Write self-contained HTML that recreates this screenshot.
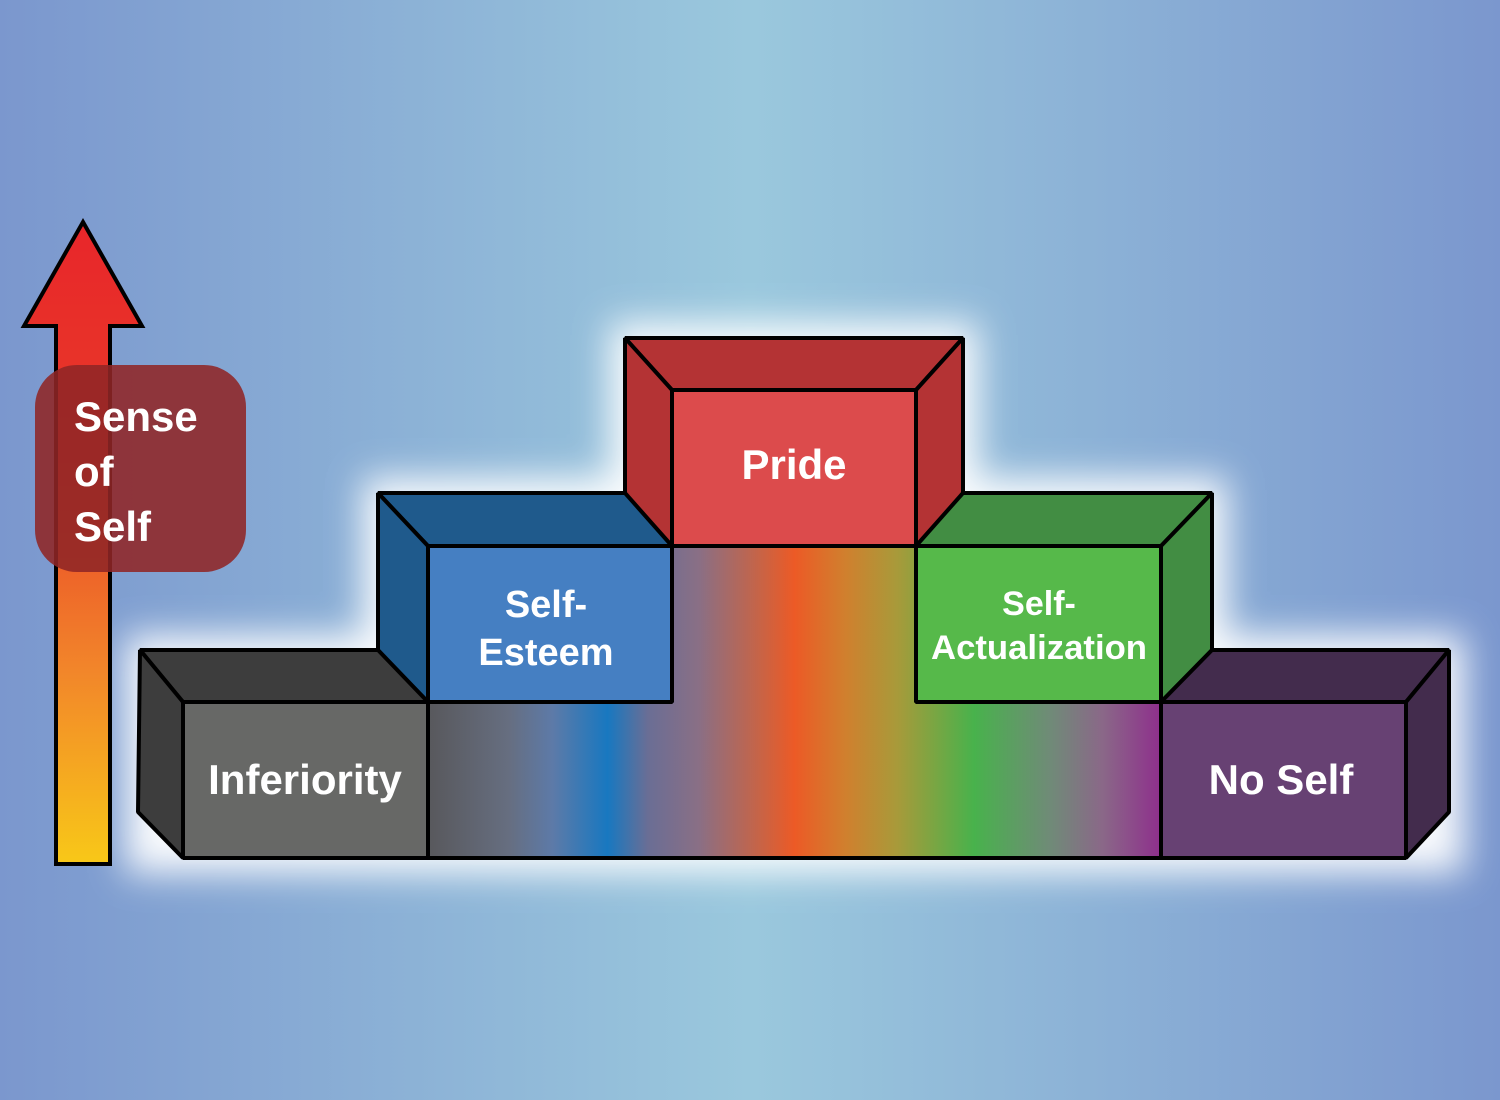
<!DOCTYPE html>
<html><head><meta charset="utf-8"><style>
html,body{margin:0;padding:0;width:1500px;height:1100px;overflow:hidden}
svg{display:block}
text{font-family:"Liberation Sans","DejaVu Sans",sans-serif;fill:#fff;font-weight:bold}
</style></head><body>
<svg width="1500" height="1100" viewBox="0 0 1500 1100" xmlns="http://www.w3.org/2000/svg">
<defs>
<linearGradient id="bg" x1="0" x2="1" y1="0" y2="0">
<stop offset="0" stop-color="#7b97ce"/><stop offset="0.5" stop-color="#9ac8dd"/><stop offset="1" stop-color="#7b97ce"/>
</linearGradient>
<linearGradient id="rb" gradientUnits="userSpaceOnUse" x1="428" y1="0" x2="1161" y2="0">
<stop offset="0" stop-color="#58585c"/>
<stop offset="0.11" stop-color="#666e80"/>
<stop offset="0.17" stop-color="#5d7aa8"/>
<stop offset="0.245" stop-color="#1878c0"/>
<stop offset="0.30" stop-color="#6a6e95"/>
<stop offset="0.37" stop-color="#8a6f85"/>
<stop offset="0.45" stop-color="#c56448"/>
<stop offset="0.50" stop-color="#ec5a26"/>
<stop offset="0.57" stop-color="#d0802e"/>
<stop offset="0.64" stop-color="#a89a3a"/>
<stop offset="0.745" stop-color="#48b24c"/>
<stop offset="0.85" stop-color="#708a78"/>
<stop offset="0.92" stop-color="#8a6888"/>
<stop offset="1" stop-color="#8e2f8c"/>
</linearGradient>
<linearGradient id="ar" x1="0" x2="0" y1="0" y2="1">
<stop offset="0" stop-color="#e8262a"/><stop offset="0.35" stop-color="#e83a28"/><stop offset="0.7" stop-color="#f2862a"/><stop offset="1" stop-color="#f8c818"/>
</linearGradient>
<filter id="gl" x="-20%" y="-30%" width="140%" height="160%"><feGaussianBlur stdDeviation="18"/></filter>
</defs>
<rect width="1500" height="1100" fill="url(#bg)"/>
<path d="M625,338H963V493H1212V650H1449V858H140V650H378V493H625Z" fill="#fff" stroke="#fff" stroke-width="30" filter="url(#gl)" opacity="0.95"/>
<g stroke="#000" stroke-width="4" stroke-linejoin="bevel">
<path d="M672,546H916V702H1161V858H428V702H672Z" fill="url(#rb)"/>
<polygon points="625,338 963,338 916,390 672,390" fill="#b43334"/>
<polygon points="625,338 672,390 672,546 625,495" fill="#b43334"/>
<polygon points="963,338 916,390 916,546 963,495" fill="#b43334"/>
<rect x="672" y="390" width="244" height="156" fill="#dc4b4c"/>
<polygon points="378,493 625,493 672,546 428,546" fill="#1f5a8c"/>
<polygon points="378,493 428,546 428,702 378,652" fill="#1f5a8c"/>
<rect x="428" y="546" width="244" height="156" fill="#457fc2"/>
<polygon points="963,493 1212,493 1161,546 916,546" fill="#428d43"/>
<polygon points="1212,493 1161,546 1161,702 1212,650" fill="#428d43"/>
<rect x="916" y="546" width="245" height="156" fill="#56b94a"/>
<polygon points="140,650 378,650 428,702 183,702" fill="#3d3d3d"/>
<polygon points="140,650 183,702 183,858 138,812" fill="#3d3d3d"/>
<rect x="183" y="702" width="245" height="156" fill="#676866"/>
<polygon points="1212,650 1449,650 1406,702 1161,702" fill="#432c4d"/>
<polygon points="1449,650 1406,702 1406,858 1449,812" fill="#432c4d"/>
<rect x="1161" y="702" width="245" height="156" fill="#674173"/>
<polygon points="83,222 142,326 110,326 110,864 56,864 56,326 24,326" fill="url(#ar)" stroke-linejoin="miter" stroke-miterlimit="10"/>
</g>
<rect x="35" y="365" width="211" height="207" rx="42" fill="#8f2526" opacity="0.88"/>
<text x="74" y="431" font-size="42">Sense</text>
<text x="74" y="486" font-size="42">of</text>
<text x="74" y="541" font-size="42">Self</text>
<text x="794" y="479" font-size="42" text-anchor="middle">Pride</text>
<text x="546" y="617" font-size="38" text-anchor="middle">Self-</text>
<text x="546" y="665" font-size="38" text-anchor="middle">Esteem</text>
<text x="1039" y="615" font-size="34" text-anchor="middle">Self-</text>
<text x="1039" y="659" font-size="34" text-anchor="middle" textLength="216" lengthAdjust="spacingAndGlyphs">Actualization</text>
<text x="305" y="794" font-size="42" text-anchor="middle">Inferiority</text>
<text x="1281" y="794" font-size="42" text-anchor="middle">No Self</text>
</svg>
</body></html>
